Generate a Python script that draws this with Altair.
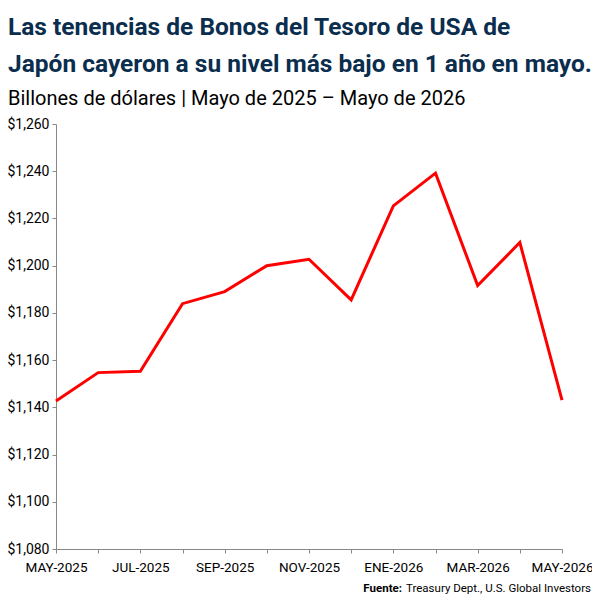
import altair as alt
import pandas as pd

months = ["MAY-2025", "JUN-2025", "JUL-2025", "AGO-2025", "SEP-2025", "OCT-2025",
          "NOV-2025", "DIC-2025", "ENE-2026", "FEB-2026", "MAR-2026", "ABR-2026", "MAY-2026"]
values = [1142.7, 1154.7, 1155.3, 1183.9, 1189.0, 1200.0,
          1202.7, 1185.5, 1225.3, 1239.2, 1191.6, 1209.8, 1143.1]
shown_labels = months[::2]
y_ticks = [1080, 1100, 1120, 1140, 1160, 1180, 1200, 1220, 1240, 1260]

df = pd.DataFrame({"mes": months, "valor": values})

FONT = "Roboto"
label_list = "[" + ",".join("'%s'" % m for m in shown_labels) + "]"

line = alt.Chart(df).mark_line(color="#ff0000", strokeWidth=3).encode(
    x=alt.X("mes:O", sort=months, title=None,
            scale=alt.Scale(type="point", padding=0),
            axis=alt.Axis(labelAngle=0, labelExpr="indexof(%s, datum.value) >= 0 ? datum.value : ''" % label_list,
                          labelFont=FONT, labelFontSize=13.5, labelColor="#000000",
                          domainColor="#888888", tickColor="#888888", tickSize=4,
                          labelPadding=7, grid=False)),
    y=alt.Y("valor:Q", title=None,
            scale=alt.Scale(domain=[1080, 1260], nice=False, zero=False),
            axis=alt.Axis(values=y_ticks, format="$,.0f", labelFont=FONT, labelFontSize=14,
                          labelColor="#000000", domainColor="#888888", tickColor="#888888",
                          tickSize=4, labelPadding=3, grid=False)),
)

base = alt.Chart(df).transform_filter("datum.mes == 'MAY-2025'")

src_bold = base.mark_text(
    text="Fuente:", font=FONT, fontSize=11.5, fontWeight="bold", align="right",
    baseline="alphabetic", color="#000000"
).encode(x=alt.value(346), y=alt.value(468))

src_rest = base.mark_text(
    text="Treasury Dept., U.S. Global Investors", font=FONT, fontSize=11.5, align="right",
    baseline="alphabetic", color="#000000"
).encode(x=alt.value(535), y=alt.value(468))

chart = alt.layer(line, src_bold, src_rest).properties(
    width=506, height=425,
    title=alt.TitleParams(
        text=["Las tenencias de Bonos del Tesoro de USA de",
              "Japón cayeron a su nivel más bajo en 1 año en mayo."],
        subtitle="Billones de dólares | Mayo de 2025 – Mayo de 2026",
        anchor="start", frame="group", dx=-48,
        font=FONT, fontSize=24.5, fontWeight="bold", color="#0b2d4e", lineHeight=37,
        subtitleFont=FONT, subtitleFontSize=20, subtitleColor="#000000", subtitlePadding=12,
        offset=7,
    ),
    autosize=alt.AutoSizeParams(type="none"),
    padding={"left": 48, "top": 116, "right": 30, "bottom": 50},
).configure_view(stroke=None)

chart.save("out.html", embed_options={"renderer": "svg", "actions": False})
